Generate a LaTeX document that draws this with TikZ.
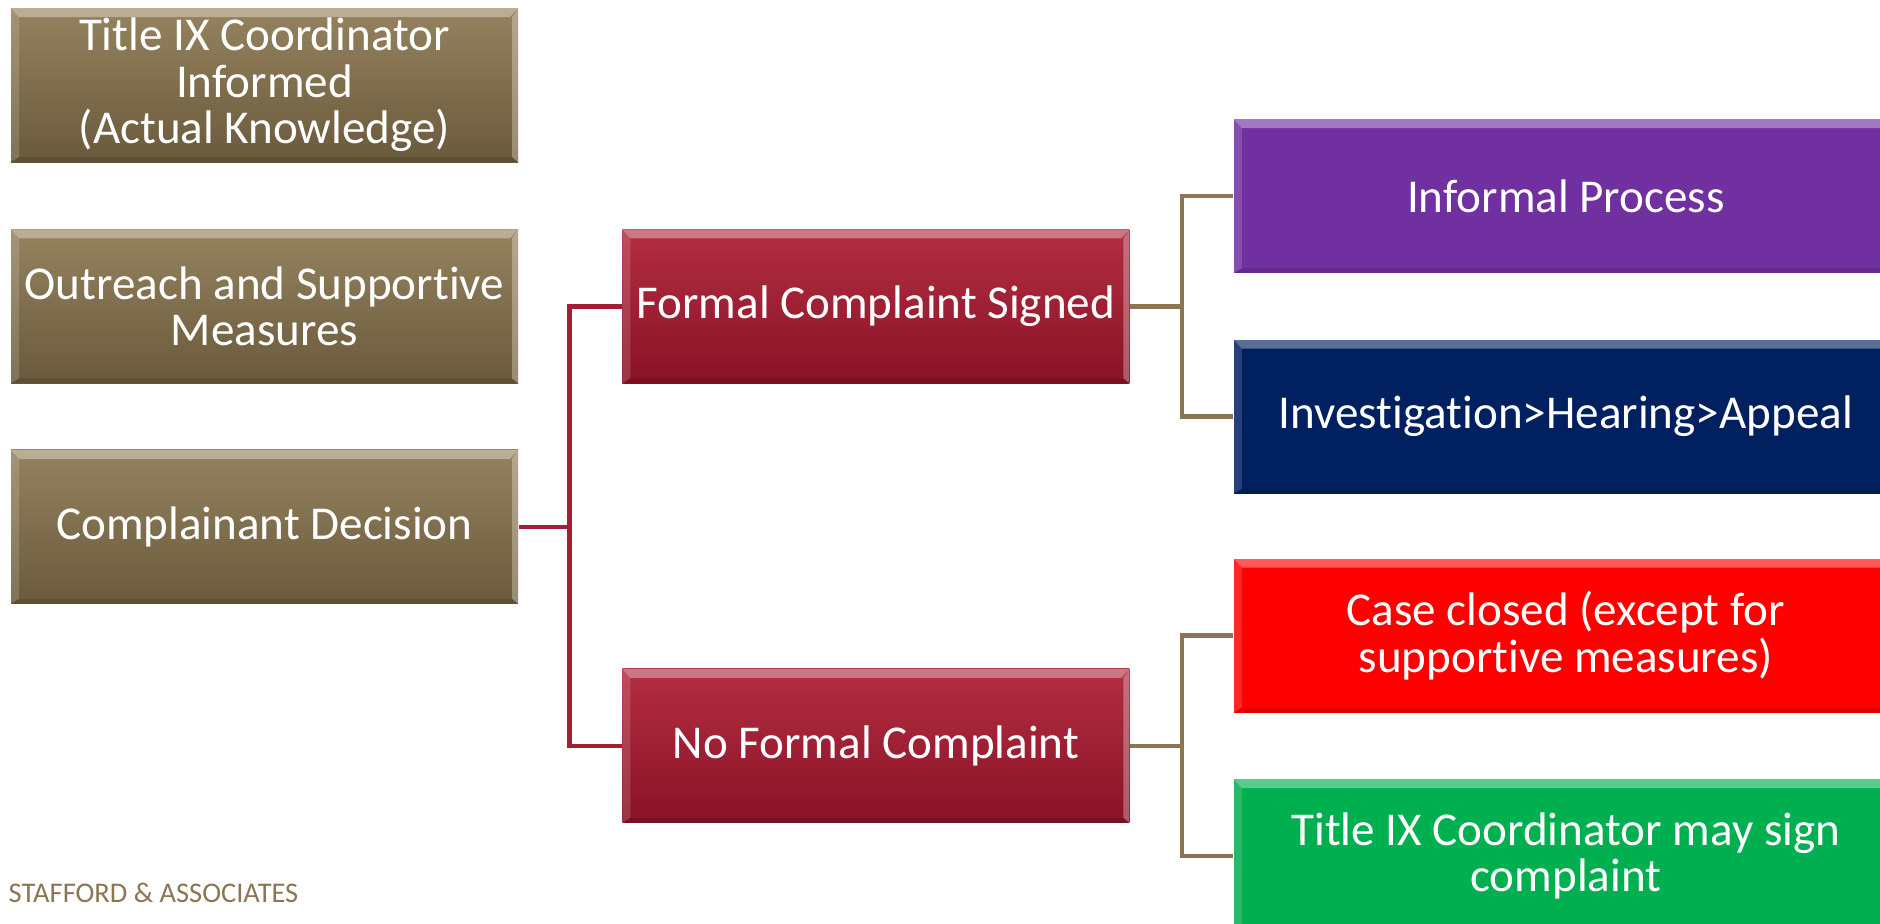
\documentclass[tikz,border=0pt]{standalone}
\usepackage{fontspec}
\setmainfont[RawFeature={-liga;-clig}]{Carlito}
\usetikzlibrary{positioning}

\definecolor{tantop}{RGB}{149,131,95}
\definecolor{tanbot}{RGB}{106,90,60}
\definecolor{winetop}{RGB}{180,46,66}
\definecolor{winebot}{RGB}{137,18,38}
\definecolor{plum}{RGB}{112,48,160}
\definecolor{navy}{RGB}{0,32,96}
\definecolor{alarm}{RGB}{255,0,0}
\definecolor{leaf}{RGB}{0,176,80}
\definecolor{redwire}{RGB}{163,30,52}
\definecolor{tanwire}{RGB}{139,117,82}

\tikzset{
    box/.style={rectangle, text=white, align=center, inner sep=0pt,
        minimum height=1.54cm, font=\fontsize{13.4pt}{13.2pt}\selectfont,
        path picture={
            % bevel: light top and sides, dark foot
            \fill[white, opacity=0.35] (path picture bounding box.north west) -- (path picture bounding box.north east)
                -- ([shift={(-0.08,-0.09)}]path picture bounding box.north east) -- ([shift={(0.08,-0.09)}]path picture bounding box.north west) -- cycle;
            \fill[white, opacity=0.15] (path picture bounding box.north west) -- ([shift={(0.08,-0.09)}]path picture bounding box.north west)
                -- ([shift={(0.08,0.05)}]path picture bounding box.south west) -- (path picture bounding box.south west) -- cycle;
            \fill[white, opacity=0.3] (path picture bounding box.north east) -- ([shift={(-0.06,-0.09)}]path picture bounding box.north east)
                -- ([shift={(-0.06,0.05)}]path picture bounding box.south east) -- (path picture bounding box.south east) -- cycle;
            \fill[black, opacity=0.12] (path picture bounding box.south west) -- (path picture bounding box.south east)
                -- ([shift={(-0.06,0.05)}]path picture bounding box.south east) -- ([shift={(0.08,0.05)}]path picture bounding box.south west) -- cycle;
        }},
    tanbox/.style={box, top color=tantop, bottom color=tanbot, minimum width=5.07cm},
    winebox/.style={box, top color=winetop, bottom color=winebot, minimum width=5.07cm},
    endbox/.style={box, fill=#1, minimum width=6.64cm},
    link/.style={line width=1.3pt},
}

\begin{document}
\begin{tikzpicture}
    \useasboundingbox (0,0) rectangle (18.8,-9.23);
    \node[tanbox] (informed) at (2.645,-0.85) {Title IX Coordinator\\Informed\\(Actual Knowledge)};
    \node[tanbox] (outreach) [below=0.66cm of informed] {Outreach and Supportive\\Measures};
    \node[tanbox] (decision) [below=0.65cm of outreach] {Complainant Decision};
    \node[winebox] (formal) [right=1.03cm of outreach] {Formal Complaint Signed};
    \node[winebox] (noformal) [below=2.84cm of formal] {No Formal Complaint};
    \node[endbox=plum] (informal) [above right=0.325cm and 1.03cm of formal.east] {Informal Process};
    \node[endbox=navy] (hearing) [below=0.65cm of informal] {Investigation>Hearing>Appeal};
    \node[endbox=alarm] (closed) [above right=0.325cm and 1.03cm of noformal.east] {Case closed (except for\\supportive measures)};
    \node[endbox=leaf] (coordsign) [below=0.65cm of closed] {Title IX Coordinator may sign\\complaint};
    \node[text=tanwire, anchor=base west, inner sep=0pt, font=\fontsize{8.1pt}{9pt}\selectfont] (firm) at (0.08,-9.02) {STAFFORD \& ASSOCIATES};

    \draw[link, redwire] (decision.east) -- ++(0.51,0) |- (formal.west);
    \draw[link, redwire] (decision.east) -- ++(0.51,0) |- (noformal.west);
    \draw[link, tanwire] (formal.east) -- ++(0.52,0) |- (informal.west);
    \draw[link, tanwire] (formal.east) -- ++(0.52,0) |- (hearing.west);
    \draw[link, tanwire] (noformal.east) -- ++(0.52,0) |- (closed.west);
    \draw[link, tanwire] (noformal.east) -- ++(0.52,0) |- (coordsign.west);
\end{tikzpicture}
\end{document}
